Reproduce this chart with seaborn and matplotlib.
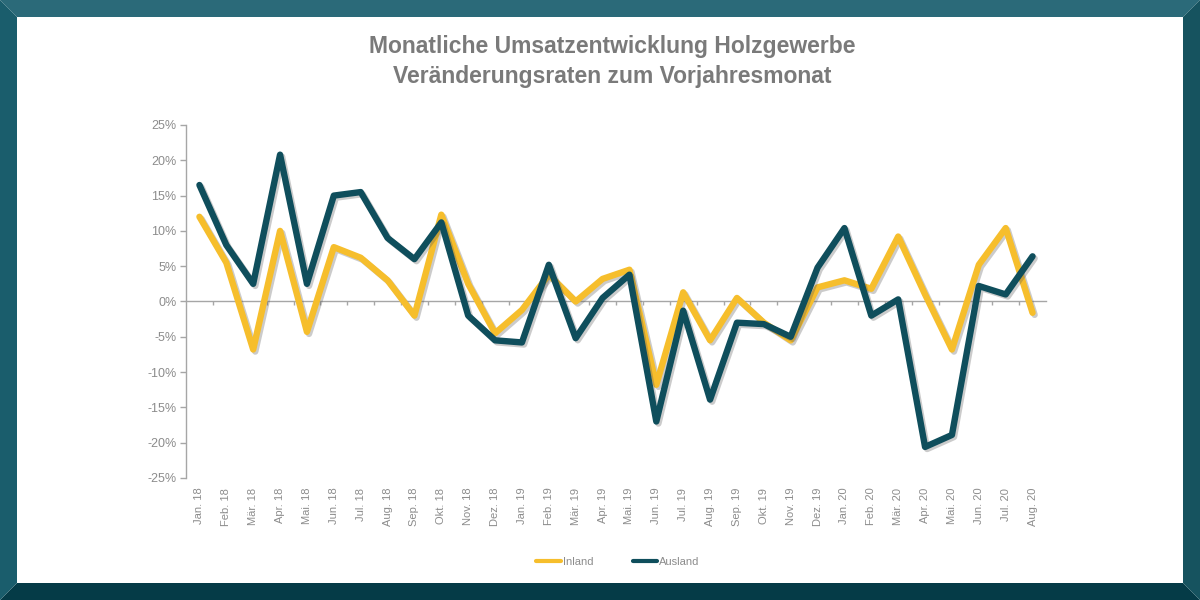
import numpy as np
import pandas as pd
import matplotlib
matplotlib.use("Agg")
import matplotlib.pyplot as plt
import seaborn as sns
from matplotlib import patheffects as pe
from matplotlib.patches import Polygon
from matplotlib.ticker import FixedLocator, FuncFormatter

# ---- data ----
months = ["Jan. 18", "Feb. 18", "Mär. 18", "Apr. 18", "Mai. 18", "Jun. 18", "Jul. 18",
          "Aug. 18", "Sep. 18", "Okt. 18", "Nov. 18", "Dez. 18", "Jan. 19", "Feb. 19",
          "Mär. 19", "Apr. 19", "Mai. 19", "Jun. 19", "Jul. 19", "Aug. 19", "Sep. 19",
          "Okt. 19", "Nov. 19", "Dez. 19", "Jan. 20", "Feb. 20", "Mär. 20", "Apr. 20",
          "Mai. 20", "Jun. 20", "Jul. 20", "Aug. 20"]
inland = [12.0, 5.5, -6.8, 10.0, -4.3, 7.7, 6.2, 3.0, -2.0, 12.3, 2.5, -4.5,
          -1.2, 3.8, 0.0, 3.2, 4.5, -11.8, 1.3, -5.5, 0.5, -3.0, -5.5, 2.0,
          3.0, 1.8, 9.2, 1.0, -6.8, 5.2, 10.4, -1.6]
ausland = [16.5, 8.0, 2.5, 20.8, 2.5, 15.0, 15.5, 9.0, 6.0, 11.2, -2.0, -5.5,
           -5.8, 5.2, -5.2, 0.5, 3.8, -17.0, -1.3, -13.9, -3.0, -3.2, -5.0, 4.8,
           10.4, -2.0, 0.3, -20.6, -18.9, 2.2, 1.0, 6.4]
series_names = ["Inland", "Ausland"]
colors = {"Inland": "#F6BE2C", "Ausland": "#0F4E5C"}
title = "Monatliche Umsatzentwicklung Holzgewerbe\nVeränderungsraten zum Vorjahresmonat"
yticks = [-25, -20, -15, -10, -5, 0, 5, 10, 15, 20, 25]

n = len(months)
df = pd.DataFrame({
    "idx": list(range(n)) * 2,
    "Wert": inland + ausland,
    "Serie": [series_names[0]] * n + [series_names[1]] * n,
})

sns.set_theme(style="white")
plt.rcParams["font.family"] = ["Liberation Sans", "DejaVu Sans"]

fig = plt.figure(figsize=(12, 6), dpi=100)
fig.patch.set_facecolor("white")

# bevelled frame
W, H = 1200, 600
b = 17
def px(pts):
    return [(x / W, 1 - y / H) for x, y in pts]
frame = [
    (px([(0, 0), (W, 0), (W - b, b), (b, b)]), "#2B6A79"),
    (px([(0, H), (W, H), (W - b, H - b), (b, H - b)]), "#053B47"),
    (px([(0, 0), (b, b), (b, H - b), (0, H)]), "#1A5D6C"),
    (px([(W, 0), (W - b, b), (W - b, H - b), (W, H)]), "#16535F"),
]
for pts, c in frame:
    fig.patches.append(Polygon(pts, closed=True, transform=fig.transFigure,
                               facecolor=c, edgecolor="none", zorder=0))

ax = fig.add_axes([186 / W, 1 - 478 / H, (1046 - 186) / W, (478 - 125) / H])
ax.set_facecolor("none")

sns.lineplot(data=df, x="idx", y="Wert", hue="Serie", hue_order=series_names,
             palette=colors, linewidth=4.6, ax=ax, legend=True)

for line in ax.get_lines():
    line.set_path_effects([pe.SimpleLineShadow(offset=(1.5, -1.5), shadow_color="#555555", alpha=0.3),
                           pe.Normal()])
    line.set_solid_joinstyle("round")
    line.set_solid_capstyle("round")

ax.set_xlim(-0.5, n - 0.5)
ax.set_ylim(-25, 25)
ax.set_xlabel("")
ax.set_ylabel("")

grey = "#8C8C8C"
for s in ["top", "right"]:
    ax.spines[s].set_visible(False)
ax.spines["left"].set_color("#A6A6A6")
ax.spines["left"].set_linewidth(1.0)
ax.spines["bottom"].set_position(("data", 0))
ax.spines["bottom"].set_color("#A6A6A6")
ax.spines["bottom"].set_linewidth(1.0)
ax.spines["bottom"].set_zorder(0.5)

ax.yaxis.set_major_locator(FixedLocator(yticks))
ax.yaxis.set_major_formatter(FuncFormatter(lambda v, p: f"{int(round(v))}%"))
ax.tick_params(axis="y", which="major", direction="out", length=4, width=1,
               color="#A6A6A6", labelsize=9, labelcolor=grey, left=True, pad=3)

ax.xaxis.set_major_locator(FixedLocator(np.arange(0.5, n - 0.5, 1)))
ax.tick_params(axis="x", which="major", direction="out", length=3, width=1,
               color="#A6A6A6", labelbottom=False, bottom=True)

sec = ax.secondary_xaxis(0.0)
sec.set_xticks(list(range(n)), labels=months)
sec.tick_params(axis="x", length=0, labelsize=8, labelcolor=grey, pad=7, labelrotation=90)
for s in sec.spines.values():
    s.set_visible(False)

sns.move_legend(ax, "center", bbox_to_anchor=(0.515, 0.063), bbox_transform=fig.transFigure,
                ncol=2, title=None, frameon=False, fontsize=8, handlelength=2.2,
                columnspacing=3.5, handletextpad=0.2)
leg = ax.get_legend()
for t in leg.get_texts():
    t.set_color(grey)
for h in leg.get_lines():
    h.set_linewidth(3)

fig.text(0.51, 0.898, title, ha="center", va="center", fontsize=16.5, fontweight="bold",
         color="#7A7A7A", linespacing=1.4)

fig.savefig("out.png", dpi=100)
